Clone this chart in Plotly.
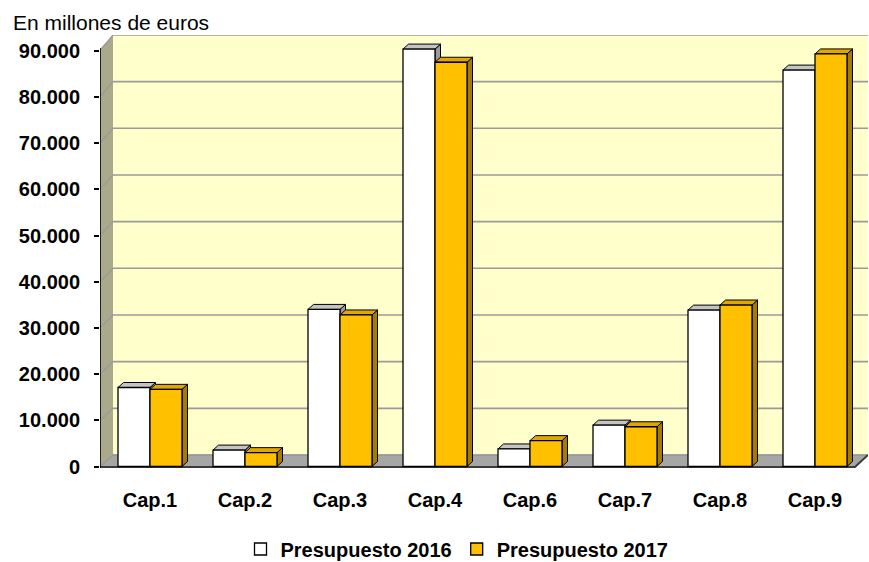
import plotly.graph_objects as go

# ---------------- data ----------------
categories = ["Cap.1", "Cap.2", "Cap.3", "Cap.4", "Cap.6", "Cap.7", "Cap.8", "Cap.9"]
presupuesto_2016 = [17100, 3550, 34000, 90350, 3800, 8950, 33850, 85800]
presupuesto_2017 = [16700, 3000, 32800, 87500, 5600, 8600, 34950, 89300]
series_names = ["Presupuesto 2016", "Presupuesto 2017"]
ytick_vals = [0, 10000, 20000, 30000, 40000, 50000, 60000, 70000, 80000, 90000]
title_text = "En millones de euros"

# ---------------- layout geometry (pixels) ----------------
W, H = 869, 562
PL, PR, PT, PB = 100, 868, 35, 468       # plot area edges in px
X0PX, XSTEP = 150, 95                     # first category centre / spacing
Y0PX, KY = 466.5, 0.00462                 # zero line px / px per unit
BACK0, KBACK = 455, 0.004667              # back wall zero / scale
DEPTH_X = 13                              # wall depth

def X(px):
    return (px - X0PX) / XSTEP

def Y(py):
    return (Y0PX - py) / KY

BW = 32 / XSTEP          # bar width in category units
DXB = 5.5 / XSTEP        # bar depth (x)
DYB = 5 / KY             # bar depth (y)

FONT = "Liberation Sans, Arial, sans-serif"
WHITE, ORANGE = "#ffffff", "#ffc000"

xs = list(range(len(categories)))

fig = go.Figure()
fig.add_trace(go.Bar(
    x=xs, y=presupuesto_2016, name=series_names[0], width=BW, offset=-BW,
    marker=dict(color=WHITE, line=dict(color="#000000", width=1.3)),
))
fig.add_trace(go.Bar(
    x=xs, y=presupuesto_2017, name=series_names[1], width=BW, offset=0,
    marker=dict(color=ORANGE, line=dict(color="#000000", width=1.3)),
))


def poly(pts):
    return "M " + " L ".join(f"{a},{b}" for a, b in pts) + " Z"


shapes = []
# back wall
shapes.append(dict(type="path", xref="x", yref="y", layer="below",
                   path=poly([(X(PL + DEPTH_X), Y(BACK0)), (X(PR), Y(BACK0)),
                              (X(PR), Y(PT)), (X(PL + DEPTH_X), Y(PT))]),
                   fillcolor="#ffffcc", line=dict(width=0)))
# side wall
shapes.append(dict(type="path", xref="x", yref="y", layer="below",
                   path=poly([(X(PL), Y(PB - 1)), (X(PL + DEPTH_X), Y(BACK0)),
                              (X(PL + DEPTH_X), Y(PT)), (X(PL), Y(PT + 14))]),
                   fillcolor="#aaa98b", line=dict(width=0)))
# floor
shapes.append(dict(type="path", xref="x", yref="y", layer="below",
                   path=poly([(X(PL), Y(PB - 1)), (X(PR - DEPTH_X), Y(PB - 1)),
                              (X(PR), Y(BACK0)), (X(PL + DEPTH_X), Y(BACK0))]),
                   fillcolor="#a6a6a6", line=dict(color="#8c8c8c", width=1)))
# gridlines on back & side wall
for v in ytick_vals:
    yb = Y(BACK0 - v * KBACK)
    shapes.append(dict(type="line", xref="x", yref="y", layer="below",
                       x0=X(PL + DEPTH_X), x1=X(PR), y0=yb, y1=yb,
                       line=dict(color="#9a9a9a", width=1.6)))
    shapes.append(dict(type="line", xref="x", yref="y", layer="below",
                       x0=X(PL), x1=X(PL + DEPTH_X), y0=v, y1=yb,
                       line=dict(color="#9a9a9a", width=1.3)))
# front edge of floor
shapes.append(dict(type="path", xref="x", yref="y", layer="below",
                   path="M %s,%s L %s,%s L %s,%s" % (X(PL), Y(PB - 1), X(PR - DEPTH_X), Y(PB - 1),
                                                    X(PR), Y(BACK0)),
                   line=dict(color="#3c3c3c", width=2)))
# front vertical axis line
shapes.append(dict(type="line", xref="x", yref="y", layer="below",
                   x0=X(PL), x1=X(PL), y0=Y(PB), y1=Y(PT + 13),
                   line=dict(color="#000000", width=1.6)))

# 3D faces of bars
for i, (w, o) in enumerate(zip(presupuesto_2016, presupuesto_2017)):
    x0, x1, x2 = i - BW, i, i + BW
    shapes.append(dict(type="path", xref="x", yref="y", layer="below",
                       path=poly([(x1, 0), (x1, w), (x1 + DXB, w + DYB), (x1 + DXB, DYB)]),
                       fillcolor="#9c9c9c", line=dict(color="#000000", width=1)))
    shapes.append(dict(type="path", xref="x", yref="y", layer="below",
                       path=poly([(x0, w), (x1, w), (x1 + DXB, w + DYB), (x0 + DXB, w + DYB)]),
                       fillcolor="#c4c4c4", line=dict(color="#000000", width=1)))
    shapes.append(dict(type="path", xref="x", yref="y", layer="below",
                       path=poly([(x2, 0), (x2, o), (x2 + DXB, o + DYB), (x2 + DXB, DYB)]),
                       fillcolor="#a47c00", line=dict(color="#000000", width=1)))
    shapes.append(dict(type="path", xref="x", yref="y", layer="below",
                       path=poly([(x1, o), (x2, o), (x2 + DXB, o + DYB), (x1 + DXB, o + DYB)]),
                       fillcolor="#dfa700", line=dict(color="#000000", width=1)))

fig.update_layout(
    width=W, height=H,
    margin=dict(l=PL, r=W - PR, t=PT, b=H - PB, pad=0, autoexpand=False),
    paper_bgcolor="#ffffff", plot_bgcolor="#ffffff",
    separators=",.",
    barmode="overlay",
    showlegend=True,
    legend=dict(orientation="h", x=(457 - PL) / (PR - PL), xanchor="center",
                y=-(549 - PB) / (PB - PT), yanchor="middle",
                font=dict(family=FONT, size=20, color="#000000", weight="bold"),
                bgcolor="rgba(0,0,0,0)", itemwidth=30),
    font=dict(family=FONT, color="#000000"),
    shapes=shapes,
    annotations=[dict(text=title_text, xref="paper", yref="paper",
                      x=(11 - PL) / (PR - PL), xanchor="left",
                      y=1 + (PT - 22) / (PB - PT), yanchor="middle",
                      showarrow=False,
                      font=dict(family=FONT, size=21, color="#000000"))],
    hovermode=False,
)
fig.update_xaxes(
    range=[X(PL), X(PR)], tickmode="array", tickvals=xs, ticktext=categories,
    showgrid=False, zeroline=False, showline=False, automargin=False,
    ticks="outside", ticklen=14, tickcolor="rgba(0,0,0,0)",
    tickfont=dict(family=FONT, size=20, color="#000000", weight="bold"),
)
fig.update_yaxes(
    range=[Y(PB), Y(PT)], tickmode="array", tickvals=ytick_vals,
    tickformat=",.0f", showgrid=False, zeroline=False, showline=False, automargin=False,
    ticks="outside", ticklen=5, tickwidth=1.5, tickcolor="#000000",
    ticklabelstandoff=10,
    tickfont=dict(family=FONT, size=20, color="#000000", weight="bold"),
)

fig.write_html("out.html", config={"displayModeBar": False},
               post_script="document.body.style.margin='0';")
